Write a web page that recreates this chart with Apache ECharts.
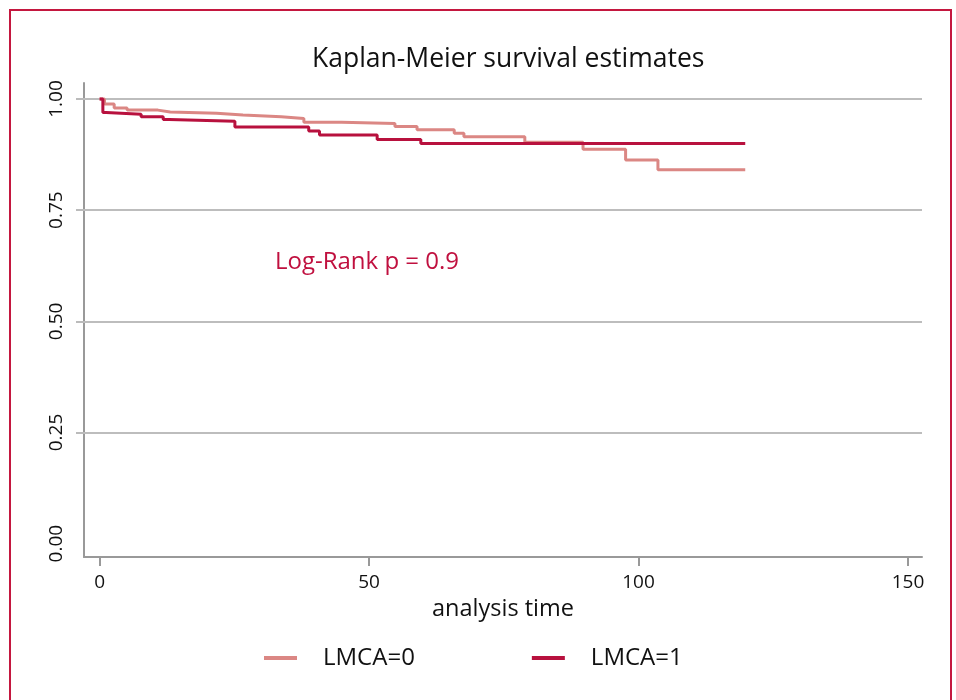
<!DOCTYPE html>
<html>
<head>
<meta charset="utf-8">
<script src="https://cdn.jsdelivr.net/npm/echarts@6/dist/echarts.min.js"></script>
<style>
html,body{margin:0;padding:0;background:#fff;}
#wrap{position:relative;width:956px;height:700px;overflow:hidden;}
#frame{position:absolute;left:9px;top:9px;width:943px;height:720px;border:2px solid #c4173f;box-sizing:border-box;}
#chart{position:absolute;left:0;top:0;width:956px;height:700px;}
</style>
</head>
<body>
<div id="wrap"><div id="frame"></div><div id="chart"></div></div>
<script>
// Kaplan-Meier step data (time, survival)
const timeLMCA0 = [0, 0.9, 2.7, 5.1, 10.8, 13.1, 21.7, 26.6, 33.7, 37.9, 44.9, 54.8, 58.9, 65.8, 67.6, 78.9, 89.7, 97.6, 103.6, 119.8];
const survLMCA0 = [1, 0.989, 0.980, 0.975, 0.971, 0.968, 0.964, 0.960, 0.956, 0.9475, 0.945, 0.938, 0.931, 0.923, 0.915, 0.9025, 0.887, 0.863, 0.841, 0.841];
const timeLMCA1 = [0, 0.6, 1.2, 7.7, 11.8, 12.9, 25.1, 38.8, 40.8, 51.5, 59.6, 119.8];
const survLMCA1 = [1, 0.9695, 0.9655, 0.960, 0.954, 0.950, 0.937, 0.928, 0.919, 0.909, 0.900, 0.900];
const seriesNames = ['LMCA=0', 'LMCA=1'];
const xTicks = [0, 50, 100, 150];
const yTicks = [0, 0.25, 0.5, 0.75, 1];
const yGridLines = [0.25, 0.5, 0.75, 1];

const FONT = 'Open Sans';
const chart = echarts.init(document.getElementById('chart'), null, {renderer: 'canvas'});
const pair = (t, s) => t.map((v, i) => [v, s[i]]);

chart.setOption({
  animation: false,
  textStyle: {fontFamily: FONT},
  title: [
    {text: 'Kaplan-Meier survival estimates', left: 307, top: 41,
     textStyle: {fontFamily: FONT, fontSize: 26.5, fontWeight: 'normal', color: '#111'}},
    {text: 'Log-Rank p = 0.9', left: 270, top: 245,
     textStyle: {fontFamily: FONT, fontSize: 24, fontWeight: 'normal', color: '#c0103f'}}
  ],
  grid: {left: 84, right: 34, top: 83, bottom: 143},
  xAxis: {
    type: 'value', min: -2.9, max: 152.6,
    name: 'analysis time', nameLocation: 'middle', nameGap: 38,
    nameTextStyle: {fontFamily: FONT, fontSize: 23.5, color: '#111'},
    axisLine: {show: true, onZero: false, lineStyle: {color: '#999', width: 2}},
    axisTick: {show: true, length: 9, customValues: xTicks, lineStyle: {color: '#999', width: 2}},
    axisLabel: {customValues: xTicks, margin: 16, fontFamily: FONT, fontSize: 19, color: '#111'},
    splitLine: {show: false}
  },
  yAxis: {
    type: 'value', min: -0.030, max: 1.036,
    axisLine: {show: true, onZero: false, lineStyle: {color: '#999', width: 2}},
    axisTick: {show: true, length: 8, customValues: yGridLines, lineStyle: {color: '#bbb', width: 2}},
    axisLabel: {customValues: yTicks, rotate: 90, margin: 18, fontFamily: FONT, fontSize: 19, color: '#111',
                formatter: v => v.toFixed(2)},
    splitLine: {show: false}
  },
  legend: {
    left: 259, top: 641, icon: 'rect', itemWidth: 33, itemHeight: 4, itemGap: 117,
    data: seriesNames,
    textStyle: {fontFamily: FONT, fontSize: 24, color: '#111', padding: [0, 0, 0, 21]}
  },
  series: [
    {type: 'line', name: '_grid', data: [], z: 1, silent: true,
     markLine: {silent: true, symbol: 'none', z: 1, label: {show: false},
                lineStyle: {type: 'solid', color: '#bdbdbd', width: 2},
                data: yGridLines.map(v => ({yAxis: v}))}},
    {type: 'line', name: seriesNames[0], step: 'end', showSymbol: false, symbol: 'none', z: 3,
     color: '#db8784', lineStyle: {width: 3, color: '#db8784'},
     data: pair(timeLMCA0, survLMCA0)},
    {type: 'line', name: seriesNames[1], step: 'end', showSymbol: false, symbol: 'none', z: 4,
     color: '#b8113e', lineStyle: {width: 3, color: '#b8113e'},
     data: pair(timeLMCA1, survLMCA1)}
  ]
});
</script>
</body>
</html>
